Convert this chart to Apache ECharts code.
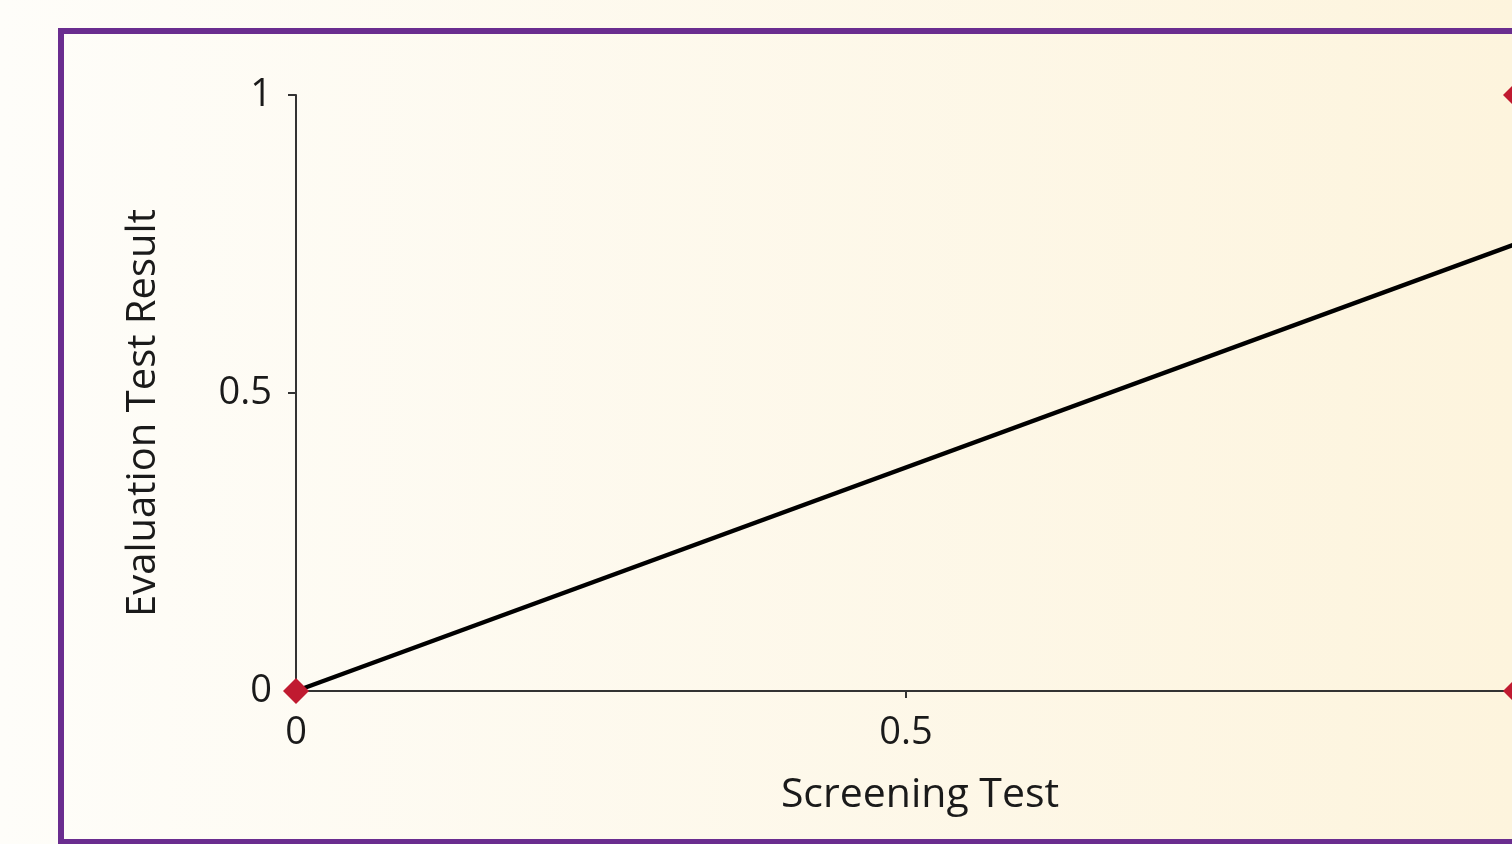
<!DOCTYPE html>
<html>
<head>
<meta charset="utf-8">
<script src="https://cdn.jsdelivr.net/npm/echarts@6/dist/echarts.min.js"></script>
<style>
  html, body { margin: 0; padding: 0; }
  #chart { width: 1512px; height: 844px; }
</style>
</head>
<body>
<div id="chart"></div>
<script>
// fitted line: screening test -> evaluation test result
const lineX = [0, 1]
const lineY = [0, 0.75]

// observed points
const pointX = [0, 1, 1]
const pointY = [0, 1, 0]

const axisMin = 0
const axisMax = 1
const axisStep = 0.5

const xName = 'Screening Test'
const yName = 'Evaluation Test Result'

const font = '"Open Sans", "Noto Sans", sans-serif'
const ink = '#1a1a1a'

const chart = echarts.init(document.getElementById('chart'))

const option = {
  animation: false,
  backgroundColor: new echarts.graphic.LinearGradient(0, 0, 1, 0, [
    { offset: 0, color: '#fefdf9' },
    { offset: 1, color: '#fdf4dd' }
  ]),
  graphic: [
    {
      type: 'rect',
      shape: { x: 61, y: 31, width: 1500, height: 811 },
      style: { fill: 'none', stroke: '#6a2d8f', lineWidth: 6 },
      silent: true
    }
  ],
  grid: {
    left: 296,
    top: 95,
    width: 1220,
    height: 596,
    outerBoundsMode: 'none',
    containLabel: false
  },
  xAxis: {
    type: 'value',
    min: axisMin,
    max: axisMax,
    interval: axisStep,
    name: xName,
    nameLocation: 'middle',
    nameGap: 84,
    nameTextStyle: {
      fontFamily: font,
      fontSize: 41,
      color: ink,
      padding: [0, 0, 0, 28]
    },
    axisLine: { lineStyle: { color: '#333', width: 2 } },
    axisTick: { length: 7, lineStyle: { color: '#333', width: 2 } },
    axisLabel: {
      margin: 23,
      fontFamily: font,
      fontSize: 38,
      color: ink,
      showMaxLabel: false
    },
    splitLine: { show: false }
  },
  yAxis: {
    type: 'value',
    min: axisMin,
    max: axisMax,
    interval: axisStep,
    name: yName,
    nameLocation: 'middle',
    nameGap: 132,
    nameTextStyle: {
      fontFamily: font,
      fontSize: 40,
      color: ink,
      padding: [0, 40, 0, 0]
    },
    axisLine: { lineStyle: { color: '#333', width: 2 } },
    axisTick: { length: 8, lineStyle: { color: '#333', width: 2 } },
    axisLabel: {
      margin: 24,
      fontFamily: font,
      fontSize: 38,
      color: ink
    },
    splitLine: { show: false }
  },
  series: [
    {
      type: 'line',
      data: lineX.map((x, i) => [x, lineY[i]]),
      showSymbol: false,
      lineStyle: { color: '#000', width: 4.5 },
      clip: false,
      z: 2
    },
    {
      type: 'scatter',
      data: pointX.map((x, i) => [x, pointY[i]]),
      symbol: 'diamond',
      symbolSize: [26, 26],
      itemStyle: { color: '#c01a30', opacity: 1 },
      clip: false,
      z: 3
    }
  ]
}

chart.setOption(option)
</script>
</body>
</html>
